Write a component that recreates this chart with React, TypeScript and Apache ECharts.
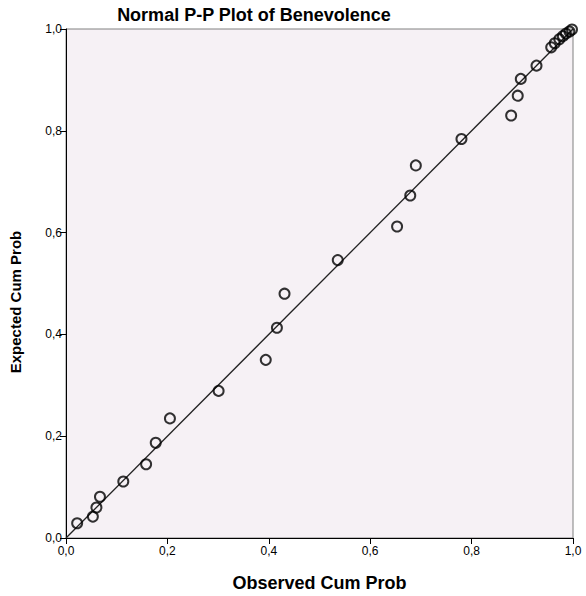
import React, { useEffect, useRef } from "react";
import * as echarts from "echarts";

const observed = [0.022, 0.053, 0.06, 0.067, 0.113, 0.158, 0.177, 0.205, 0.301, 0.394, 0.416, 0.431, 0.536, 0.653, 0.679, 0.69, 0.78, 0.878, 0.891, 0.897, 0.928, 0.957, 0.964, 0.973, 0.98, 0.986, 0.993, 0.998];
const expected = [0.029, 0.042, 0.06, 0.081, 0.111, 0.145, 0.187, 0.235, 0.289, 0.35, 0.413, 0.48, 0.546, 0.612, 0.673, 0.732, 0.784, 0.83, 0.869, 0.902, 0.928, 0.964, 0.972, 0.98, 0.986, 0.991, 0.995, 0.999];
const diagonal = [[0, 0], [1, 1]];
const titleText = "Normal P-P Plot of Benevolence";
const xName = "Observed Cum Prob";
const yName = "Expected Cum Prob";

const fmt = (v: number) => v.toFixed(1).replace(".", ",");

export default function App() {
  const ref = useRef<HTMLDivElement>(null);
  useEffect(() => {
    const chart = echarts.init(ref.current!, undefined, { renderer: "svg" });
    const font = "'Liberation Sans', Arial, sans-serif";
    chart.setOption({
      animation: false,
      backgroundColor: "#ffffff",
      title: {
        text: titleText,
        left: 249,
        textAlign: "center",
        top: 1,
        textStyle: { fontFamily: font, fontSize: 18, fontWeight: "bold", color: "#000" },
      },
      graphic: [
        {
          type: "text",
          x: 15,
          y: 302,
          rotation: Math.PI / 2,
          style: {
            text: yName,
            fontFamily: font,
            fontSize: 15,
            fontWeight: "bold",
            fill: "#000",
            align: "center",
            verticalAlign: "middle",
          },
        },
      ],
      grid: {
        left: 66,
        top: 29,
        width: 507,
        height: 509,
        containLabel: false,
        outerBoundsMode: "none",
        show: true,
        backgroundColor: "#F6F1F5",
        borderColor: "#808080",
        borderWidth: 1,
      },
      xAxis: {
        type: "value",
        min: 0,
        max: 1,
        interval: 0.2,
        name: xName,
        nameLocation: "middle",
        nameGap: 36,
        nameTextStyle: { fontFamily: font, fontSize: 18, fontWeight: "bold", color: "#000" },
        axisLine: { show: true, lineStyle: { color: "#000", width: 1 } },
        axisTick: { show: true, length: 6, lineStyle: { color: "#000" } },
        axisLabel: { formatter: fmt, fontFamily: font, fontSize: 12, color: "#000", margin: 7 },
        splitLine: { show: false },
      },
      yAxis: {
        type: "value",
        min: 0,
        max: 1,
        interval: 0.2,
        axisLine: { show: true, lineStyle: { color: "#000", width: 1 } },
        axisTick: { show: true, length: 6, lineStyle: { color: "#000" } },
        axisLabel: { formatter: fmt, fontFamily: font, fontSize: 12, color: "#000", margin: 4 },
        splitLine: { show: false },
      },
      series: [
        {
          type: "line",
          data: diagonal,
          symbol: "none",
          lineStyle: { color: "#222", width: 1.3 },
          silent: true,
          z: 1,
        },
        {
          type: "scatter",
          data: observed.map((x, i) => [x, expected[i]]),
          symbol: "circle",
          symbolSize: 10,
          itemStyle: { color: "rgba(0,0,0,0)", borderColor: "#000", borderWidth: 2 },
          z: 2,
        },
      ],
    });
    return () => chart.dispose();
  }, []);
  return <div ref={ref} style={{ position: "fixed", left: 0, top: 0, width: 586, height: 596 }} />;
}
